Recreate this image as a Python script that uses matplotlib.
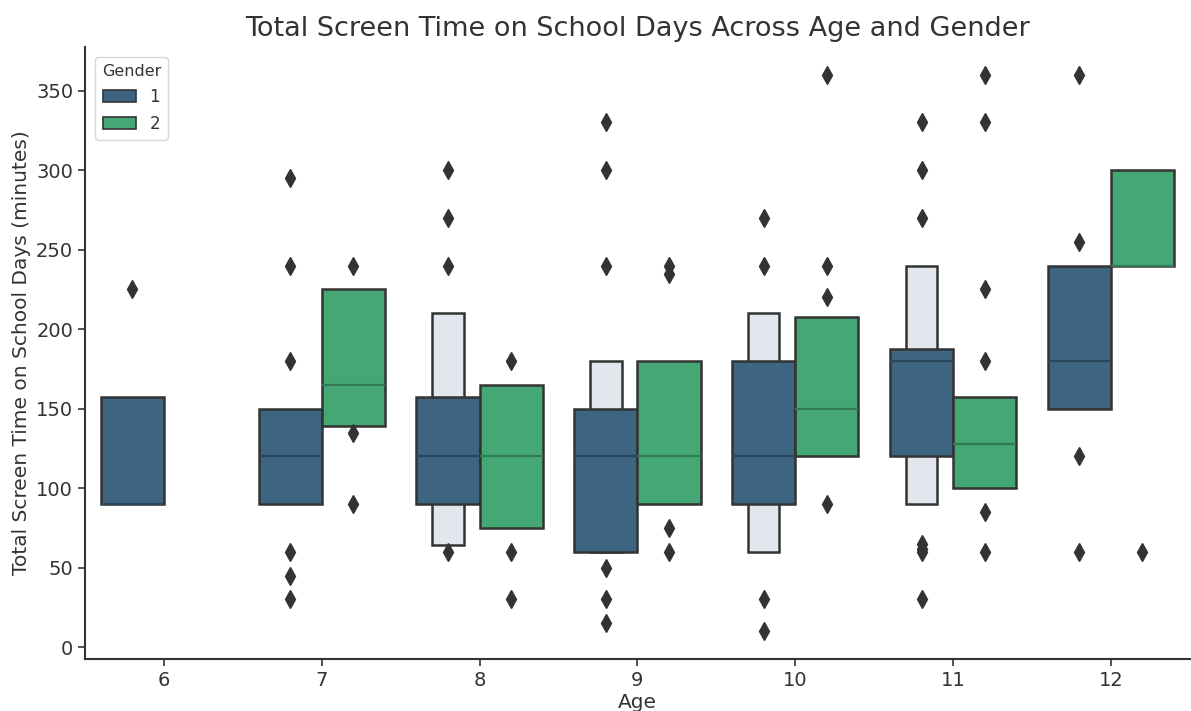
import numpy as np
import matplotlib.pyplot as plt
from matplotlib.patches import Patch

nan = np.nan

# ages on the x axis
ages = [6, 7, 8, 9, 10, 11, 12]
genders = ["1", "2"]

# Gender 1: main box, median, outer (light) box, outliers
g1_box_lo = [90, 90, 90, 60, 90, 120, 150]
g1_box_hi = [157.5, 150, 157.5, 150, 180, 187.5, 240]
g1_median = [90, 120, 120, 120, 120, 180, 180]
g1_tail_lo = [nan, nan, 64, 60, 60, 90, nan]
g1_tail_hi = [nan, nan, 210, 180, 210, 240, nan]
g1_outliers = [
    [225],
    [295, 240, 180, 60, 45, 30],
    [300, 270, 240, 60],
    [330, 300, 240, 50, 30, 15],
    [270, 240, 30, 10],
    [330, 300, 270, 65, 62, 60, 30],
    [360, 255, 120, 60],
]

# Gender 2 (no data at age 6)
g2_box_lo = [nan, 139, 75, 90, 120, 100, 240]
g2_box_hi = [nan, 225, 165, 180, 207.5, 157.5, 300]
g2_median = [nan, 165, 120, 120, 150, 127.5, 240]
g2_tail_lo = [nan] * 7
g2_tail_hi = [nan] * 7
g2_outliers = [
    [],
    [240, 135, 90],
    [180, 60, 30],
    [240, 235, 75, 60],
    [360, 240, 220, 90],
    [360, 330, 225, 180, 85, 60],
    [60],
]

colors = ["#3d6481", "#45a774"]
median_colors = ["#2b4659", "#327a55"]
light = "#e1e7ec"
edge = "#333333"
text_color = "#333333"

plt.rcParams["font.family"] = "DejaVu Sans"
plt.rcParams["text.color"] = text_color
plt.rcParams["axes.labelcolor"] = text_color
plt.rcParams["xtick.color"] = text_color
plt.rcParams["ytick.color"] = text_color

fig, ax = plt.subplots(figsize=(11.91, 7.11), dpi=100)
fig.subplots_adjust(left=0.0714, right=0.999, bottom=0.073, top=0.934)

series = [
    (g1_box_lo, g1_box_hi, g1_median, g1_tail_lo, g1_tail_hi, g1_outliers),
    (g2_box_lo, g2_box_hi, g2_median, g2_tail_lo, g2_tail_hi, g2_outliers),
]
box_w = 0.4
pos = np.arange(len(ages))

for gi, (lo, hi, med, tlo, thi, outs) in enumerate(series):
    offset = -0.2 if gi == 0 else 0.2
    xs = pos + offset
    lo = np.array(lo, dtype=float)
    hi = np.array(hi, dtype=float)
    med = np.array(med, dtype=float)
    tlo = np.array(tlo, dtype=float)
    thi = np.array(thi, dtype=float)
    ok = ~np.isnan(tlo)
    ax.bar(xs[ok], thi[ok] - tlo[ok], bottom=tlo[ok], width=box_w / 2,
           color=light, edgecolor=edge, linewidth=1.8, zorder=2)
    ok = ~np.isnan(lo)
    ax.bar(xs[ok], hi[ok] - lo[ok], bottom=lo[ok], width=box_w,
           color=colors[gi], edgecolor=edge, linewidth=1.8, zorder=3)
    ax.hlines(med[ok], xs[ok] - box_w / 2, xs[ok] + box_w / 2,
              color=median_colors[gi], linewidth=1.6, zorder=4)
    for x, vals in zip(xs, outs):
        if vals:
            ax.plot([x] * len(vals), vals, linestyle="none", marker="d",
                    markersize=9, color=edge, zorder=5)

ax.set_xlim(-0.5, len(ages) - 0.5)
ax.set_ylim(-7.5, 377.5)
ax.set_xticks(pos)
ax.set_xticklabels([str(a) for a in ages])
ax.set_yticks(np.arange(0, 351, 50))
ax.tick_params(labelsize=14, width=1.2, length=5)

for side in ["top", "right"]:
    ax.spines[side].set_visible(False)
for side in ["left", "bottom"]:
    ax.spines[side].set_linewidth(1.5)
    ax.spines[side].set_color(edge)

ax.set_xlabel("Age", fontsize=14.5, labelpad=2)
ax.set_ylabel("Total Screen Time on School Days (minutes)", fontsize=14.5,
              labelpad=4)
ax.set_title("Total Screen Time on School Days Across Age and Gender",
             fontsize=19.5, pad=8)

handles = [Patch(facecolor=c, edgecolor=edge, linewidth=1.2) for c in colors]
ax.legend(handles, genders, title="Gender", loc="upper left",
          fontsize=12, title_fontsize=11.5, borderaxespad=0.6,
          labelspacing=0.55)

fig.savefig("out.png", dpi=100)
